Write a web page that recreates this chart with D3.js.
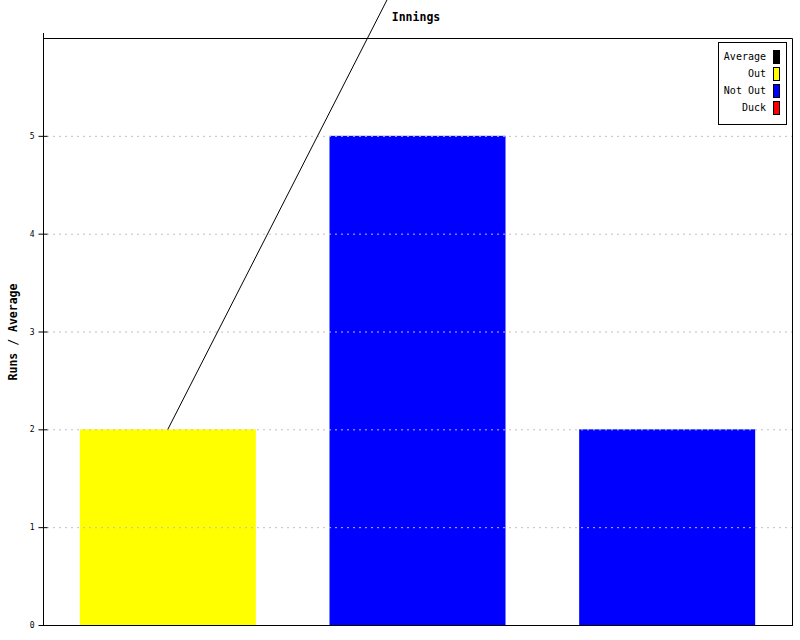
<!DOCTYPE html>
<html><head><meta charset="utf-8">
<script src="https://cdn.jsdelivr.net/npm/d3@7"></script>
<style>body{margin:0;background:#fff}svg{display:block}</style>
</head><body><svg id="c" width="800" height="640"></svg>
<script>
const innings = ["1", "2", "3"];
const runs = [2, 5, 2];
const status = ["Out", "Not Out", "Not Out"];
const averages = [2, 7, 9];
const yTicks = [0, 1, 2, 3, 4, 5];
const legendLabels = ["Average", "Out", "Not Out", "Duck"];
const legendColors = ["#000000", "#ffff00", "#0000ff", "#ff0000"];
const statusColors = {"Out": "#ffff00", "Not Out": "#0000ff", "Duck": "#ff0000"};

const svg = d3.select("#c");
const font = "'DejaVu Sans Mono', monospace";
const L = 43, R = 792, T = 38, B = 625;
const x = d3.scaleBand().domain(innings).range([L, R]).paddingInner(0.295).paddingOuter(0.1475);
const y = d3.scaleLinear().domain([0, 6]).range([B, T]);

// bars
svg.selectAll("rect.bar").data(innings).join("rect")
  .attr("x", d => x(d)).attr("width", x.bandwidth())
  .attr("y", (d, i) => y(runs[i])).attr("height", (d, i) => B - y(runs[i]))
  .attr("fill", (d, i) => statusColors[status[i]]);

// gridlines
svg.append("g").selectAll("line").data(yTicks.filter(t => t > 0)).join("line")
  .attr("x1", L + 4).attr("x2", R).attr("y1", d => y(d) + 0.5).attr("y2", d => y(d) + 0.5)
  .attr("stroke", "#c0c0c0").attr("stroke-dasharray", "2,4");

// frame
svg.append("path").attr("d", `M${L},${T + 0.5}H${R + 0.5}V${B + 1}`).attr("fill", "none").attr("stroke", "#000");
svg.append("line").attr("x1", L).attr("x2", R).attr("y1", B + 0.5).attr("y2", B + 0.5).attr("stroke", "#000");

// y axis
const yAxis = d3.axisLeft(y).tickValues(yTicks).tickFormat(d3.format("d")).tickSize(5).tickPadding(4);
const ga = svg.append("g").attr("transform", `translate(${L + 0.5},0)`).call(yAxis);
ga.select(".domain").attr("d", `M0,${T - 5}V${B + 0.5}`).attr("stroke", "#000");
ga.selectAll(".tick line").attr("x1", -5).attr("x2", 4).attr("stroke", "#000");
ga.selectAll(".tick text").attr("font-family", font).attr("font-size", 8).attr("fill", "#000");

// average line
const line = d3.line().x(d => x(d[0]) + x.bandwidth() / 2).y(d => y(d[1]));
svg.append("path").datum(innings.map((d, i) => [d, averages[i]]))
  .attr("d", line).attr("fill", "none").attr("stroke", "#000").attr("stroke-width", 1);

// title
svg.append("text").attr("x", 416).attr("y", 21).attr("text-anchor", "middle")
  .attr("font-family", font).attr("font-size", 11.5).attr("font-weight", "bold").text("Innings");
svg.append("text").attr("transform", "translate(17,332) rotate(-90)").attr("text-anchor", "middle")
  .attr("font-family", font).attr("font-size", 11.5).attr("font-weight", "bold").text("Runs / Average");

// legend
const lg = svg.append("g");
lg.append("rect").attr("x", 718.5).attr("y", 42.5).attr("width", 68).attr("height", 82)
  .attr("fill", "#fff").attr("stroke", "#000");
legendLabels.forEach((lab, i) => {
  const yy = 50 + i * 17;
  lg.append("rect").attr("x", 773.5).attr("y", yy + 0.5).attr("width", 6).attr("height", 13)
    .attr("fill", legendColors[i]).attr("stroke", "#000");
  lg.append("text").attr("x", 766).attr("y", yy + 10).attr("text-anchor", "end")
    .attr("font-family", font).attr("font-size", 10).text(lab);
});
</script></body></html>
